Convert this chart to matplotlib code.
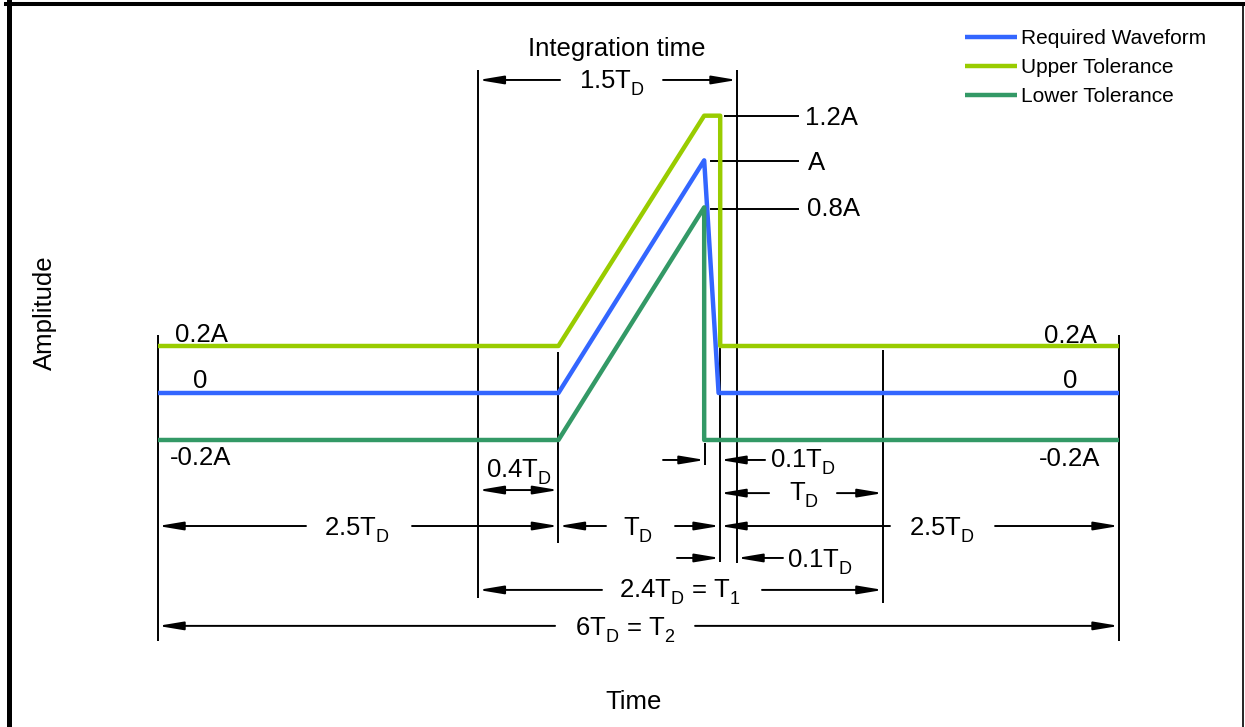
import matplotlib
matplotlib.use('Agg')
import matplotlib.pyplot as plt
from matplotlib.lines import Line2D

plt.rcParams['font.family'] = ['Liberation Sans', 'DejaVu Sans']
plt.rcParams['mathtext.fontset'] = 'custom'
plt.rcParams['mathtext.rm'] = 'Liberation Sans'
plt.rcParams['mathtext.default'] = 'regular'

# drop the subscripts a bit lower, like in the original drawing
try:
    import matplotlib._mathtext as _mt

    class _SubConsts(_mt.FontConstantsBase):
        sub1 = 0.55

    _mt._font_constant_mapping['Liberation Sans'] = _SubConsts
except Exception:
    pass

# waveform breakpoints, time in units of T_D, amplitude in units of A
# (schematic drawing, not to scale in time)
time_req = [0.0, 2.5, 3.41, 3.50, 6.0]
amp_req = [0.0, 0.0, 0.99, 0.0, 0.0]
time_up = [0.0, 2.5, 3.41, 3.51, 3.51, 6.0]
amp_up = [0.2, 0.2, 1.18, 1.18, 0.2, 0.2]
time_lo = [0.0, 2.5, 3.41, 3.41, 6.0]
amp_lo = [-0.2, -0.2, 0.79, -0.2, -0.2]

series_names = ['Required Waveform', 'Upper Tolerance', 'Lower Tolerance']
series_colors = ['#3366ff', '#99cc00', '#339966']

# extension line positions (time axis)
X_START = 0.0
X_INT = 2.0
X_RISE = 2.5
X_PEAK = 3.415
X_FALL = 3.509
X_INT_END = 3.615
X_T1 = 4.526
X_END = 6.0

FS = 18.5
BLK = 'black'

fig = plt.figure(figsize=(12.45, 7.27), dpi=100)
ax = fig.add_axes([0, 0, 1, 1])
ax.set_xlim(-0.9865, 6.7865)
ax.set_ylim(-1.4213, 1.6723)
ax.axis('off')

# frame
fig.add_artist(Line2D([8.5 / 1245, 8.5 / 1245], [0, 1 - 2 / 727], color=BLK, lw=3.6))
fig.add_artist(Line2D([6 / 1245, 1244 / 1245], [1 - 4 / 727, 1 - 4 / 727], color=BLK, lw=2.9))
fig.add_artist(Line2D([1243 / 1245, 1243 / 1245], [0, 1 - 4 / 727], color=BLK, lw=1.2))

# extension lines
def vline(x, y0, y1):
    ax.plot([x, x], [y0, y1], color=BLK, lw=1.4, solid_capstyle='butt', zorder=1)

vline(X_START, 0.247, -1.055)
vline(X_END, 0.247, -1.055)
vline(X_INT, 1.374, -0.872)
vline(X_INT_END, 1.374, -0.723)
vline(X_RISE, 0.174, -0.638)
vline(X_FALL, 0.2, -0.719)
vline(X_T1, 0.183, -0.894)
vline(X_PEAK, -0.213, -0.306)

# waveforms
lines = []
for t, a, c, n in zip([time_req, time_up, time_lo], [amp_req, amp_up, amp_lo],
                      series_colors, series_names):
    ln, = ax.plot(t, a, color=c, lw=3.2, solid_capstyle='butt', label=n, zorder=3)
    lines.append(ln)
ax.legend(handles=lines, loc='upper left', bbox_to_anchor=(0.7751, 0.9596),
          frameon=False, fontsize=15, handlelength=2.5, handletextpad=0.2,
          labelspacing=0.47, borderpad=0, borderaxespad=0)

AST = 'head_length=1.5,head_width=0.25'


def arrow(tail, tip, y):
    ax.annotate('', xy=(tip, y), xytext=(tail, y),
                arrowprops=dict(arrowstyle='-|>,' + AST,
                                color=BLK, lw=1.4, shrinkA=0, shrinkB=0,
                                mutation_scale=10))


def label(x, y, s, ha='center', size=FS):
    ax.text(x, y, s, ha=ha, va='baseline', fontsize=size)


TD = r'T$_{D}$'

# integration time
label(2.866, 1.434, 'Integration time')
arrow(2.51, X_INT, 1.332)
arrow(3.153, X_INT_END, 1.332)
label(2.834, 1.298, '1.5' + TD)

# amplitude leaders
ax.plot([3.540, 3.996], [1.179, 1.179], color=BLK, lw=1.4)
ax.plot([3.453, 3.996], [0.987, 0.987], color=BLK, lw=1.4)
ax.plot([3.453, 3.996], [0.783, 0.783], color=BLK, lw=1.4)
label(4.039, 1.140, '1.2A', ha='left')
label(4.058, 0.949, 'A', ha='left')
label(4.052, 0.753, '0.8A', ha='left')

# level labels
label(0.106, 0.217, '0.2A', ha='left')
label(0.219, 0.021, '0', ha='left')
label(0.075, -0.306, '-0.2A', ha='left')
label(5.862, 0.213, '0.2A', ha='right')
label(5.738, 0.021, '0', ha='right')
label(5.881, -0.310, '-0.2A', ha='right')

# 0.4 T_D
ax.annotate('', xy=(X_RISE, -0.413), xytext=(X_INT, -0.413),
            arrowprops=dict(arrowstyle='<|-|>,' + AST,
                            color=BLK, lw=1.4, shrinkA=0, shrinkB=0,
                            mutation_scale=10))
label(2.254, -0.357, '0.4' + TD)

# 0.1 T_D (fall time)
arrow(3.153, X_PEAK, -0.285)
arrow(3.790, X_FALL, -0.285)
label(3.821, -0.315, '0.1' + TD, ha='left')

# T_D after fall
arrow(3.815, X_FALL, -0.426)
arrow(4.239, X_T1, -0.426)
label(4.033, -0.455, TD)

# 2.5 T_D | T_D | 2.5 T_D
arrow(0.924, X_START, -0.566)
arrow(1.586, X_RISE, -0.566)
label(1.242, -0.604, '2.5' + TD)
arrow(2.797, X_RISE, -0.566)
arrow(3.228, X_FALL, -0.566)
label(2.997, -0.604, TD)
arrow(4.570, X_FALL, -0.566)
arrow(5.226, X_END, -0.566)
label(4.895, -0.604, '2.5' + TD)

# 0.1 T_D (gap)
arrow(3.240, X_FALL, -0.702)
arrow(3.902, X_INT_END, -0.702)
label(3.927, -0.740, '0.1' + TD, ha='left')

# T1
arrow(2.772, X_INT, -0.838)
arrow(3.771, X_T1, -0.838)
label(3.259, -0.868, '2.4' + TD + ' = T$_{1}$')

# T2
arrow(2.479, X_START, -0.991)
arrow(3.353, X_END, -0.991)
label(2.916, -1.030, '6' + TD + ' = T$_{2}$')

# axis names
ax.text(-0.706, 0.340, 'Amplitude', rotation=90, ha='center', va='center', fontsize=FS)
ax.text(2.972, -1.315, 'Time', ha='center', va='center', fontsize=FS)

fig.savefig('out.png', dpi=100)
